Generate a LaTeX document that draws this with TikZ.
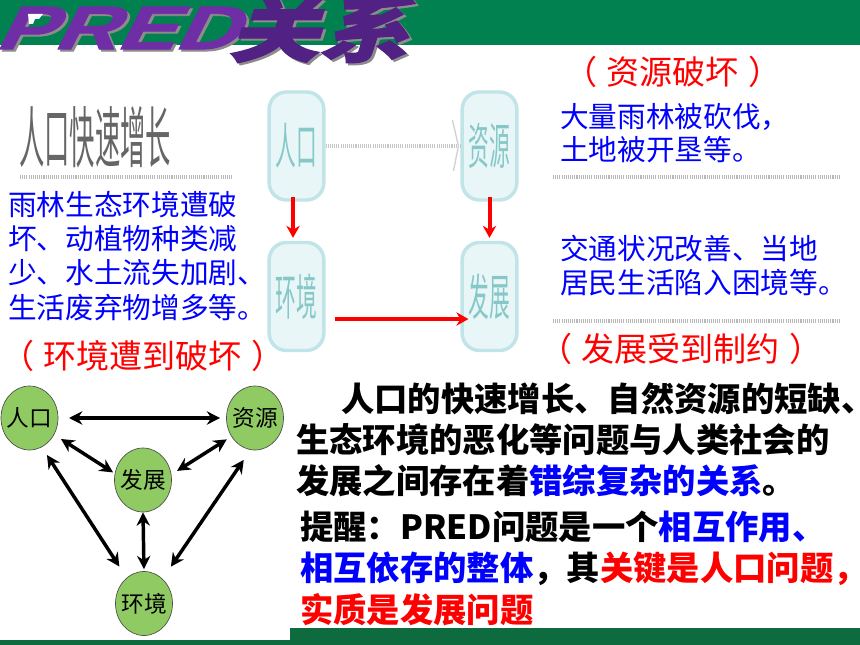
\documentclass[tikz,border=0pt]{standalone}
\usepackage{fontspec}
\setmainfont{Noto Sans CJK SC}
\newfontfamily\titlelat[FakeSlant=0.36,FakeBold=1.5]{Liberation Sans}
\newfontfamily\titlecjk[FakeSlant=0.25,FakeBold=1.5]{Noto Sans CJK SC}
\usetikzlibrary{arrows.meta,calc,shapes.geometric}
\definecolor{bandtop}{HTML}{00814F}
\definecolor{bandbot}{HTML}{0D6B3F}
\definecolor{purp}{HTML}{6F2DA6}
\definecolor{purpd}{HTML}{522184}
\definecolor{circ}{HTML}{8FCB62}
\definecolor{boxfill}{HTML}{E9F6F7}
\definecolor{boxline}{HTML}{C0E4E7}
\definecolor{boxtext}{HTML}{86C8C8}
\definecolor{bl}{HTML}{0000FF}
\definecolor{rd}{HTML}{FF0000}
\newcommand{\fs}[1]{\fontsize{#1}{#1}\selectfont}
\newcommand{\paren}[1]{（\kern7pt #1\kern7pt ）}
\tikzset{
  x=0.75pt,y=-0.75pt,
  txt/.style={anchor=west,inner sep=0pt},
  bluetxt/.style={txt,text=bl,font=\fs{21.5pt}},
  redtxt/.style={txt,text=rd,font=\fs{24.8pt}},
  boldtxt/.style={txt,text=black,font=\fs{25pt}\bfseries},
  notetxt/.style={txt,text=black,font=\fs{25pt}\bfseries},
  circnode/.style={ellipse,draw=black!70,line width=0.5pt,fill=circ,minimum width=42.75pt,minimum height=48pt,inner sep=-10pt,font=\fs{17pt}},
  palebox/.style={rectangle,rounded corners=13pt,draw=boxline,line width=2.6pt,fill=boxfill,minimum width=41pt,minimum height=81pt,inner sep=0pt,text=boxtext,font=\fs{37pt}},
  dbl/.style={{Stealth[length=10pt,width=10pt]}-{Stealth[length=10pt,width=10pt]},line width=2.6pt,black},
  redarrow/.style={-{Stealth[length=9pt,width=10pt]},line width=3pt,rd},
  redarrowh/.style={-{Stealth[length=9pt,width=10pt]},line width=2.4pt,rd},
  dotrule/.style={line width=3pt,black!28,dash pattern=on 0.8pt off 0.8pt},
}
\begin{document}
\begin{tikzpicture}
\useasboundingbox (0,0) rectangle (860,645);
\fill[white] (0,0) rectangle (860,645);
% bands
\fill[bandtop] (0,0) rectangle (860,45);
\fill[bandbot] (290,628) rectangle (860,645);
\fill[bandbot] (0,640) rectangle (290,645);
% title
\foreach \dx/\col in {2.5/black!45,0/purp}{
  \node[txt,text=\col] at (\dx-6,28+\dx*0.8) {\scalebox{1.42}[1]{\titlelat\fs{46pt}\bfseries PRED}};
}
\foreach \dx/\col in {2.5/black!45,0/purpd}{
  \node[txt,text=\col] at (\dx+228,29+\dx*0.8) {\scalebox{1.28}[1]{\titlecjk\fs{53pt}\bfseries 关系}};
}
\fill[white] (28,14) -- (43,14) -- (39,19) -- (35,19) -- (33,24) -- (29,24) -- cycle;
% heading
\node[txt,text=black!60] (head) at (19,137) {\scalebox{0.38}[1]{\fs{50pt}人口快速增长}};
\draw[dotrule] (20,177) -- (233,177);
\draw[dotrule] (553,177) -- (840,177);
\draw[dotrule] (553,321) -- (840,321);
% left blue text
\node[bluetxt] (l1) at (8,205) {雨林生态环境遭破};
\node[bluetxt] (l2) at (8,239) {坏、动植物种类减};
\node[bluetxt] (l3) at (8,273) {少、水土流失加剧、};
\node[bluetxt] (l4) at (8,308) {生活废弃物增多等。};
\node[redtxt] (r1) at (1,356) {\paren{环境遭到破坏}};
% right text
\node[redtxt] (r2) at (564,72) {\paren{资源破坏}};
\node[bluetxt] (b1) at (560,117) {大量雨林被砍伐，};
\node[bluetxt] (b2) at (560,150) {土地被开垦等。};
\node[bluetxt] (b3) at (560,249) {交通状况改善、当地};
\node[bluetxt] (b4) at (560,283) {居民生活陷入困境等。};
\node[redtxt] (r3) at (539,349) {\paren{发展受到制约}};
% pale boxes
\node[palebox] (pa) at (296.5,146) {\scalebox{0.42}[1]{人口}};
\node[palebox] (pb) at (489.5,146) {\scalebox{0.42}[1]{资源}};
\node[palebox] (pc) at (296.5,296.5) {\scalebox{0.42}[1]{环境}};
\node[palebox] (pd) at (489.5,296.5) {\scalebox{0.42}[1]{发展}};
\draw[dotrule,black!22] (pa.east) -- (pb.west);
\draw[line width=1pt,black!18] ($(pb.west)+(-8,-26)$) -- ($(pb.west)+(-2,0)$) -- ($(pb.west)+(-7,25)$);
\draw[redarrow,shorten <=-3.5pt,shorten >=2.2pt] ([xshift=-2.6pt]pa.south) -- ([xshift=-2.6pt]pc.north);
\draw[redarrow,shorten <=-3.5pt,shorten >=2.2pt] (pb.south) -- (pd.north);
\draw[redarrowh,shorten <=6.7pt,shorten >=-6pt] ([yshift=-16.9pt]pc.east) -- ([yshift=-16.9pt]pd.west);
% circles
\node[circnode] (ca) at (29.5,418) {人口};
\node[circnode] (cb) at (255,418) {资源};
\node[circnode] (cd) at (143,480) {发展};
\node[circnode] (cc) at (144,603.5) {环境};
\draw[dbl,shorten <=8pt,shorten >=4.5pt] (ca.east) -- (cb.west);
\draw[dbl,shorten <=6pt,shorten >=1.5pt] (ca.-34) -- (cd.167);
\draw[dbl,shorten <=4pt,shorten >=5pt] (cb.218) -- (cd.11);
\draw[dbl,shorten >=1.5pt] (cd.south) -- (cc.north);
\draw[dbl,shorten <=7pt,shorten >=10pt] (ca.-67) -- (cc.124);
\draw[dbl,shorten <=9pt,shorten >=11pt] (cb.262) -- (cc.53);
% bold paragraph
\node[boldtxt] (p1) at (341,399) {人口的快速增长、自然资源的短缺、};
\node[boldtxt] (p2) at (296,440) {生态环境的恶化等问题与人类社会的};
\node[boldtxt] (p3) at (296,481) {发展之间存在着\textcolor{bl}{错综复杂的关系}。};
\node[notetxt] (n1) at (300,527) {提醒：PRED问题是一个\textcolor{bl}{相互作用、}};
\node[notetxt] (n2) at (300,569) {\textcolor{bl}{相互依存的整体}，其\textcolor{rd}{关键是人口问题，}};
\node[notetxt,text=rd] (n3) at (300,610) {实质是发展问题};
\end{tikzpicture}
\end{document}
